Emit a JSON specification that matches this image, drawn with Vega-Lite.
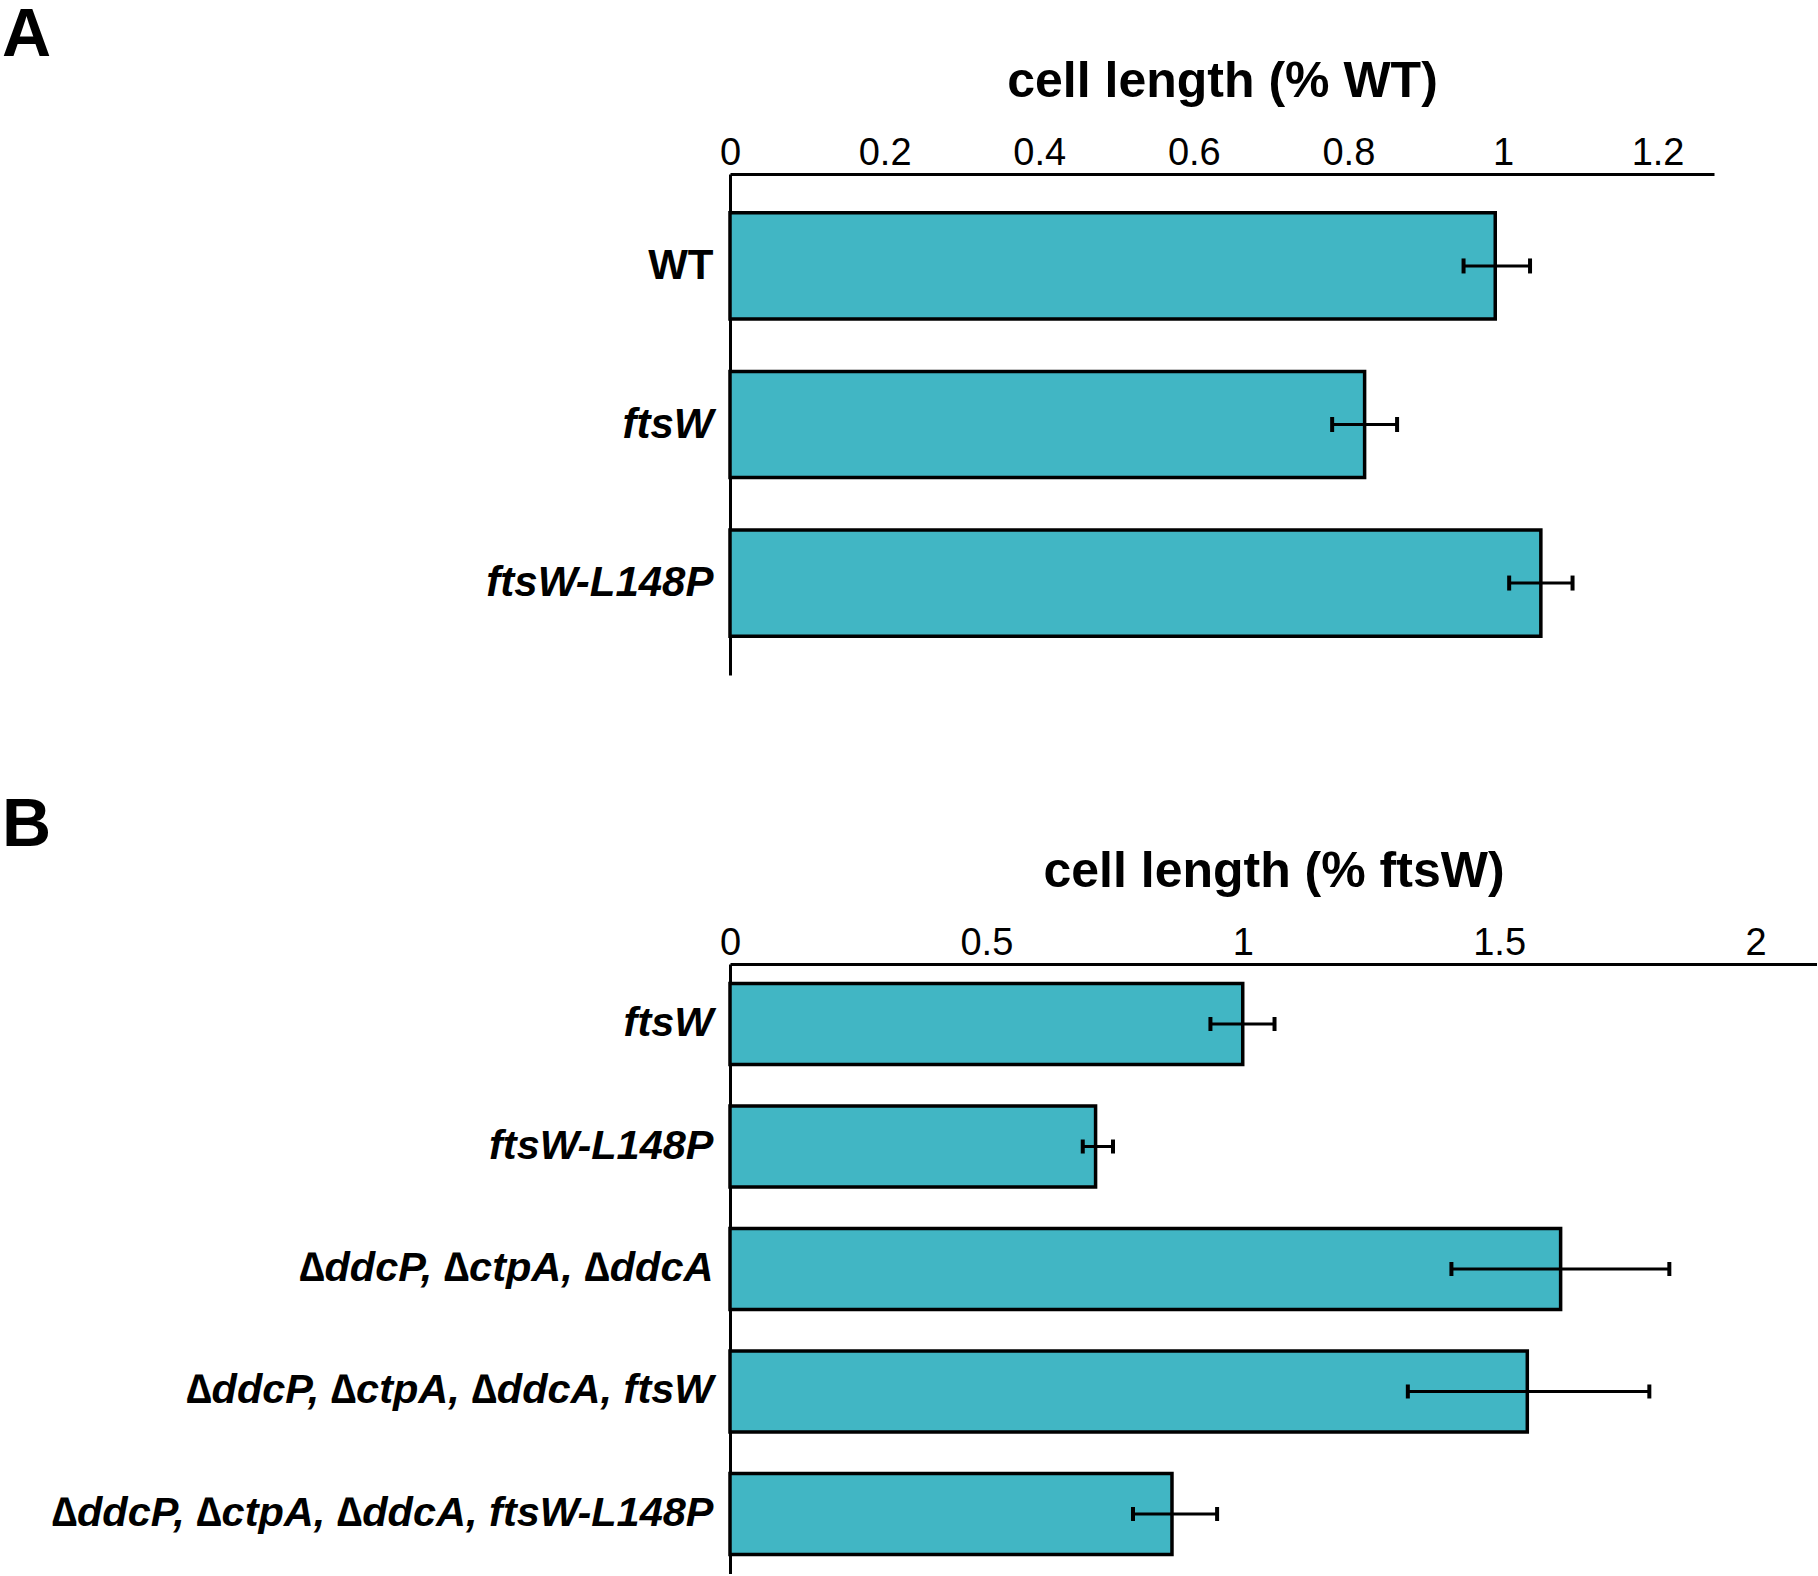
{
  "$schema": "https://vega.github.io/schema/vega-lite/v6.json",
  "background": "white",
  "padding": {"left": 2, "top": 2, "right": 0, "bottom": 0},
  "spacing": 117,
  "config": {
    "view": {"stroke": null},
    "font": "Liberation Sans",
    "axis": {"domainColor": "black", "domainWidth": 3, "ticks": false, "tickSize": 0, "grid": false, "labelColor": "black", "titleColor": "black"}
  },
  "datasets": {
    "A": [
      {"strain": "WT", "mean": 0.99, "lo": 0.949, "hi": 1.035},
      {"strain": "ftsW", "mean": 0.821, "lo": 0.779, "hi": 0.863},
      {"strain": "ftsW-L148P", "mean": 1.049, "lo": 1.008, "hi": 1.09}
    ],
    "B": [
      {"strain": "ftsW", "mean": 1.0, "lo": 0.937, "hi": 1.062},
      {"strain": "ftsW-L148P", "mean": 0.713, "lo": 0.688, "hi": 0.747},
      {"strain": "∆ddcP, ∆ctpA, ∆ddcA", "mean": 1.62, "lo": 1.407, "hi": 1.832},
      {"strain": "∆ddcP, ∆ctpA, ∆ddcA, ftsW", "mean": 1.555, "lo": 1.322, "hi": 1.793},
      {"strain": "∆ddcP, ∆ctpA, ∆ddcA, ftsW-L148P", "mean": 0.862, "lo": 0.786, "hi": 0.95}
    ]
  },
  "vconcat": [
    {
      "data": {"name": "A"},
      "width": 984,
      "height": 501,
      "title": {"text": "A", "anchor": "start", "frame": "group", "baseline": "alphabetic", "offset": -68, "dx": -728, "fontSize": 68, "fontWeight": "bold", "font": "Liberation Sans", "color": "black"},
      "encoding": {
        "y": {
          "field": "strain", "type": "nominal", "sort": null,
          "scale": {"paddingInner": 0.33, "paddingOuter": 0.245},
          "axis": {"title": null, "labelFont": "Liberation Sans", "labelFontSize": 42, "labelFontWeight": "bold",
                   "labelFontStyle": {"condition": {"test": "datum.value === 'WT'", "value": "normal"}, "value": "italic"},
                   "labelPadding": 17, "labelLimit": 1000}
        }
      },
      "layer": [
        {
          "mark": {"type": "bar", "fill": "#41B6C4", "stroke": "black", "strokeWidth": 3.5},
          "encoding": {
            "x": {"field": "mean", "type": "quantitative", "scale": {"domain": [0, 1.273], "nice": false, "zero": true},
                  "axis": {"orient": "top", "title": "cell length (% WT)", "titleFont": "Liberation Sans", "titleFontSize": 50, "titleFontWeight": "bold", "titlePadding": 28,
                           "values": [0, 0.2, 0.4, 0.6, 0.8, 1, 1.2], "format": "~g", "labelFont": "Liberation Sans", "labelFontSize": 38, "labelPadding": 2, "labelFlush": false, "labelOverlap": false}}
          }
        },
        {
          "mark": {"type": "rule", "color": "black", "strokeWidth": 3},
          "encoding": {"x": {"field": "lo", "type": "quantitative"}, "x2": {"field": "hi"}}
        },
        {
          "mark": {"type": "tick", "color": "black", "size": 15, "thickness": 4, "opacity": 1},
          "encoding": {"x": {"field": "lo", "type": "quantitative"}}
        },
        {
          "mark": {"type": "tick", "color": "black", "size": 15, "thickness": 4, "opacity": 1},
          "encoding": {"x": {"field": "hi", "type": "quantitative"}}
        }
      ]
    },
    {
      "data": {"name": "B"},
      "width": 1087,
      "height": 610,
      "title": {"text": "B", "anchor": "start", "frame": "group", "baseline": "alphabetic", "offset": -68, "dx": -728, "fontSize": 68, "fontWeight": "bold", "font": "Liberation Sans", "color": "black"},
      "encoding": {
        "y": {
          "field": "strain", "type": "nominal", "sort": null,
          "scale": {"paddingInner": 0.34, "paddingOuter": 0.16},
          "axis": {"title": null, "labelFont": "Liberation Sans", "labelFontSize": 41.5, "labelFontWeight": "bold", "labelFontStyle": "italic",
                   "labelPadding": 17, "labelLimit": 1000}
        }
      },
      "layer": [
        {
          "mark": {"type": "bar", "fill": "#41B6C4", "stroke": "black", "strokeWidth": 3.5},
          "encoding": {
            "x": {"field": "mean", "type": "quantitative", "scale": {"domain": [0, 2.12], "nice": false, "zero": true},
                  "axis": {"orient": "top", "title": "cell length (% ftsW)", "titleFont": "Liberation Sans", "titleFontSize": 50, "titleFontWeight": "bold", "titlePadding": 28,
                           "values": [0, 0.5, 1, 1.5, 2], "format": "~g", "labelFont": "Liberation Sans", "labelFontSize": 38, "labelPadding": 2, "labelFlush": false, "labelOverlap": false}}
          }
        },
        {
          "mark": {"type": "rule", "color": "black", "strokeWidth": 3},
          "encoding": {"x": {"field": "lo", "type": "quantitative"}, "x2": {"field": "hi"}}
        },
        {
          "mark": {"type": "tick", "color": "black", "size": 14, "thickness": 4, "opacity": 1},
          "encoding": {"x": {"field": "lo", "type": "quantitative"}}
        },
        {
          "mark": {"type": "tick", "color": "black", "size": 14, "thickness": 4, "opacity": 1},
          "encoding": {"x": {"field": "hi", "type": "quantitative"}}
        }
      ]
    }
  ]
}
